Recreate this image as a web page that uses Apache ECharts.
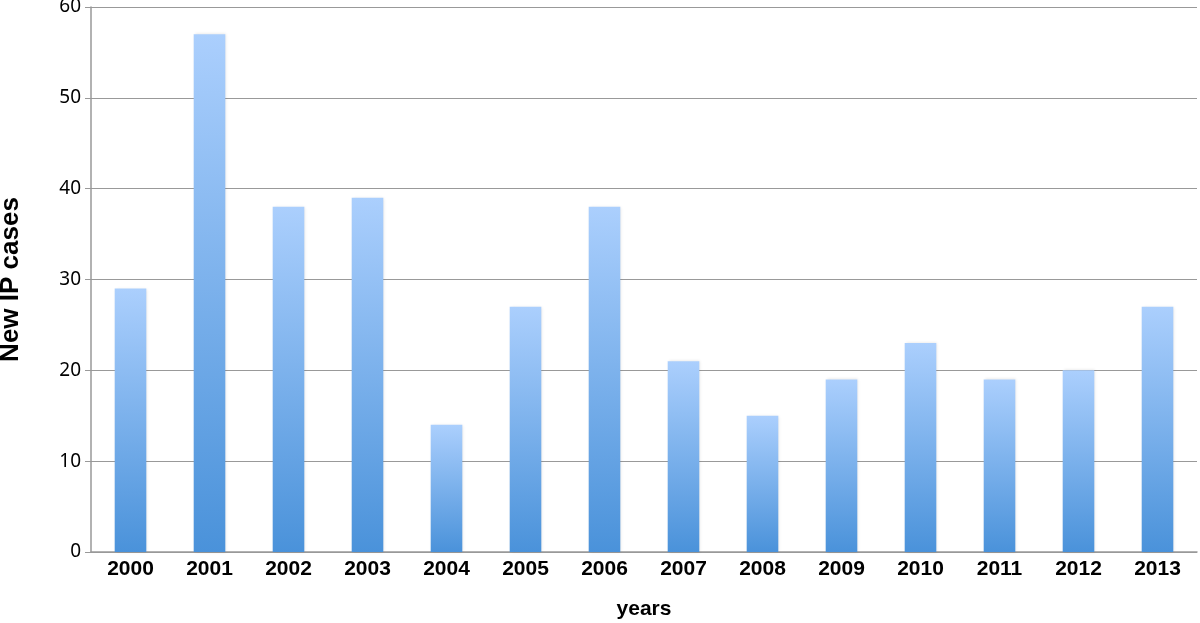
<!DOCTYPE html>
<html><head><meta charset="utf-8">
<script src="https://cdn.jsdelivr.net/npm/echarts@6/dist/echarts.min.js"></script>
<style>html,body{margin:0;padding:0;background:#fff}#c{width:1200px;height:623px}</style>
</head><body><div id="c"></div>
<script>
const years = ['2000','2001','2002','2003','2004','2005','2006','2007','2008','2009','2010','2011','2012','2013'];
const cases = [29,57,38,39,14,27,38,21,15,19,23,19,20,27];
const yTicks = [0,10,20,30,40,50,60];

const chart = echarts.init(document.getElementById('c'));
chart.setOption({
  animation:false,
  grid:{left:91,right:3,top:7,bottom:71,containLabel:false,outerBoundsMode:'none'},
  xAxis:{
    type:'category', data:years,
    name:'years', nameLocation:'middle', nameGap:47,
    nameTextStyle:{fontFamily:'Liberation Sans',fontWeight:'bold',fontSize:21,color:'#000'},
    axisLine:{lineStyle:{color:'#999',width:1.5}},
    axisTick:{show:false},
    axisLabel:{fontFamily:'Liberation Sans',fontWeight:'bold',fontSize:21,color:'#000',margin:7}
  },
  yAxis:{
    type:'value', min:yTicks[0], max:yTicks[yTicks.length-1], interval:10,
    name:'New IP cases', nameLocation:'middle', nameGap:67, nameRotate:90,
    nameTextStyle:{fontFamily:'Liberation Sans',fontWeight:'bold',fontSize:26,color:'#000'},
    axisLine:{show:true,lineStyle:{color:'#999',width:1.5}},
    axisTick:{show:true,length:6,lineStyle:{color:'#999'}},
    axisLabel:{fontFamily:'Noto Sans',fontSize:19,color:'#000',margin:10},
    splitLine:{lineStyle:{color:'#999',width:1.2}}
  },
  series:[{
    type:'bar', data:cases, barWidth:'40%',
    itemStyle:{
      color:new echarts.graphic.LinearGradient(0,0,0,1,[{offset:0,color:'#abcffd'},{offset:1,color:'#4a92da'}]),
      shadowColor:'rgba(0,0,0,0.12)', shadowBlur:3, shadowOffsetX:1
    }
  }]
});
</script></body></html>
